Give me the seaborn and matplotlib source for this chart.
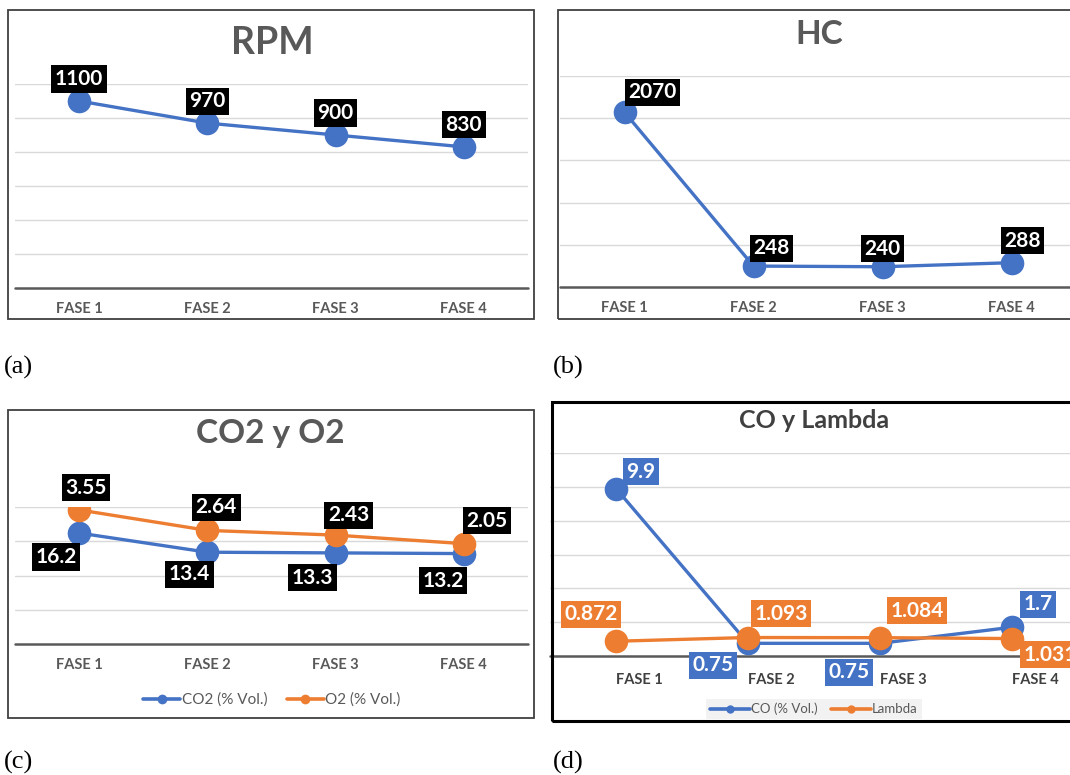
import numpy as np
import pandas as pd
import matplotlib
matplotlib.use("Agg")
import matplotlib.pyplot as plt
from matplotlib.patches import Rectangle
from matplotlib.lines import Line2D
from matplotlib.transforms import ScaledTranslation
import seaborn as sns

# ---------------- data ----------------
fases = ["FASE 1", "FASE 2", "FASE 3", "FASE 4"]
rpm = [1100, 970, 900, 830]
hc = [2070, 248, 240, 288]
co2 = [16.2, 13.4, 13.3, 13.2]
o2 = [3.55, 2.64, 2.43, 2.05]
co = [9.9, 0.75, 0.75, 1.7]
lam = [0.872, 1.093, 1.084, 1.031]

BLUE = "#4472C4"
ORANGE = "#ED7D31"

W, H = 1070, 775
sns.set_style("white")
plt.rcParams["font.family"] = ["Lato", "DejaVu Sans"]

fig = plt.figure(figsize=(W / 100, H / 100), dpi=100)
PT = 100 / 72.0


def ax_at(x0, y0, x1, y1):
    return fig.add_axes([x0 / W, 1 - y1 / H, (x1 - x0) / W, (y1 - y0) / H])


def frame(x0, y0, x1, y1, lw=1.3, color="#404040"):
    fig.add_artist(Rectangle((x0 / W, 1 - y1 / H), (x1 - x0) / W, (y1 - y0) / H,
                             transform=fig.transFigure, fill=False, lw=lw, ec=color))


def style(ax, ymax, step, pad_px, lblcolor="#595959", shift_px=0):
    ax.set_ylim(0, ymax)
    ax.set_xlim(-0.5, 3.5)
    ax.set_yticks(np.arange(step, ymax + step / 2, step))
    ax.set_yticklabels([])
    ax.yaxis.grid(True, color="#d9d9d9", lw=1)
    ax.xaxis.grid(False)
    ax.axhline(0, color="#595959", lw=1.8, zorder=1, clip_on=False)
    ax.tick_params(axis="both", length=0)
    ax.tick_params(axis="x", pad=pad_px / PT, labelsize=10.5, labelcolor=lblcolor)
    for lbl in ax.get_xticklabels():
        lbl.set_fontweight("bold")
        if shift_px:
            lbl.set_transform(lbl.get_transform() +
                              ScaledTranslation(shift_px / 100, 0, fig.dpi_scale_trans))
    for s in ax.spines.values():
        s.set_visible(False)
    ax.set_xlabel("")
    ax.set_ylabel("")
    ax.patch.set_alpha(0)


def label(ax, i, v, text, dx, dy, fc="black", coords="data"):
    ax.annotate(text, xy=(i, v), xycoords=coords,
                xytext=(dx / PT, -dy / PT), textcoords="offset points",
                ha="center", va="center", color="white", fontsize=15, fontweight="bold",
                bbox=dict(boxstyle="square,pad=0.17", fc=fc, ec="none"),
                zorder=20, annotation_clip=False)


LINE = dict(marker="o", markersize=17, markeredgewidth=0, linewidth=2.4, sort=False)

# ---------------- (a) RPM ----------------
frame(8, 10, 534, 319)
axa = ax_at(15, 84, 528, 288)
sns.lineplot(x=fases, y=rpm, color=BLUE, ax=axa, **LINE)
style(axa, 1200, 200, 14)
for i, v in enumerate(rpm):
    label(axa, i, v, f"{v}", 0, -22)
fig.text(272 / W, 1 - 43 / H, "RPM", ha="center", va="center", fontsize=27,
         fontweight="bold", color="#595959")

# ---------------- (b) HC ----------------
frame(558, 10, 1080, 319)
axb = ax_at(560, 76, 1076, 287)
sns.lineplot(x=fases, y=hc, color=BLUE, ax=axb, **LINE)
style(axb, 2500, 500, 14)
offs_b = [(28, -20), (18, -18), (0, -18), (11, -22)]
for i, (v, (dx, dy)) in enumerate(zip(hc, offs_b)):
    label(axb, i, v, f"{v}", dx, dy)
fig.text(819 / W, 1 - 35 / H, "HC", ha="center", va="center", fontsize=24,
         fontweight="bold", color="#595959")

# ---------------- (c) CO2 y O2 ----------------
frame(8, 410, 534, 718)
axc = ax_at(15, 507, 528, 644)
sns.lineplot(x=fases, y=co2, color=BLUE, ax=axc, **LINE)
style(axc, 20, 5, 14)
axc2 = axc.twinx()
sns.lineplot(x=fases, y=o2, color=ORANGE, ax=axc2, **LINE)
axc2.set_ylim(-2.41, 3.68)
axc2.set_yticks([])
axc2.set_ylabel("")
axc2.grid(False)
for s in axc2.spines.values():
    s.set_visible(False)
axc2.patch.set_alpha(0)
offs_co2 = [(-23, 24), (-18, 22), (-23, 25), (-21, 27)]
offs_o2 = [(7, -22), (9, -23), (13, -20), (23, -23)]
for i, (v, (dx, dy)) in enumerate(zip(co2, offs_co2)):
    label(axc2, i, v, f"{v}", dx, dy, coords=axc.transData)
for i, (v, (dx, dy)) in enumerate(zip(o2, offs_o2)):
    label(axc2, i, v, f"{v:.2f}", dx, dy, coords=axc2.transData)
fig.text(270 / W, 1 - 433 / H, "CO2 y O2", ha="center", va="center", fontsize=24,
         fontweight="bold", color="#595959")
hc_leg = [Line2D([], [], color=BLUE, lw=2.6, marker="o", ms=7, mew=0),
          Line2D([], [], color=ORANGE, lw=2.6, marker="o", ms=7, mew=0)]
fig.legend(hc_leg, ["CO2 (% Vol.)", "O2 (% Vol.)"], loc="center",
           bbox_to_anchor=(272 / W, 1 - 700 / H), ncol=2, frameon=False,
           fontsize=11, handlelength=2.4, columnspacing=1.3, handletextpad=0.1,
           labelcolor="#595959")

# ---------------- (d) CO y Lambda ----------------
frame(552, 402, 1085, 721, lw=2.2, color="black")
axd = ax_at(550, 453, 1078, 656)
sns.lineplot(x=fases, y=co, color=BLUE, ax=axd, **LINE)
sns.lineplot(x=fases, y=lam, color=ORANGE, ax=axd, **LINE)
style(axd, 12, 2, 17, lblcolor="#404040", shift_px=23)
offs_co = [(25, -17), (-35, 22), (-31, 29), (26, -23)]
offs_lam = [(-25, -27), (33, -24), (37, -27), (38, 16)]
for i, (v, (dx, dy)) in enumerate(zip(co, offs_co)):
    label(axd, i, v, f"{v}", dx, dy, fc=BLUE)
for i, (v, (dx, dy)) in enumerate(zip(lam, offs_lam)):
    label(axd, i, v, f"{v}", dx, dy, fc=ORANGE)
fig.text(814 / W, 1 - 420 / H, "CO y Lambda", ha="center", va="center", fontsize=18,
         fontweight="bold", color="#404040")
d_leg = [Line2D([], [], color=BLUE, lw=2.6, marker="o", ms=6, mew=0),
         Line2D([], [], color=ORANGE, lw=2.6, marker="o", ms=6, mew=0)]
lg = fig.legend(d_leg, ["CO (% Vol.)", "Lambda"], loc="center",
                bbox_to_anchor=(814 / W, 1 - 709 / H), ncol=2, frameon=True,
                fontsize=9.5, handlelength=3.0, columnspacing=1.0, handletextpad=0.1,
                labelcolor="#595959", facecolor="#f2f2f2", edgecolor="none",
                fancybox=False, framealpha=1, borderpad=0.3)

# ---------------- panel letters ----------------
for x, y, t in [(4, 367, "(a)"), (553, 367, "(b)"), (4, 762, "(c)"), (553, 762, "(d)")]:
    fig.text(x / W, 1 - y / H, t, ha="left", va="center", fontsize=19,
             family=["Liberation Serif", "DejaVu Serif"], color="black")

fig.savefig("out.png", dpi=100)
